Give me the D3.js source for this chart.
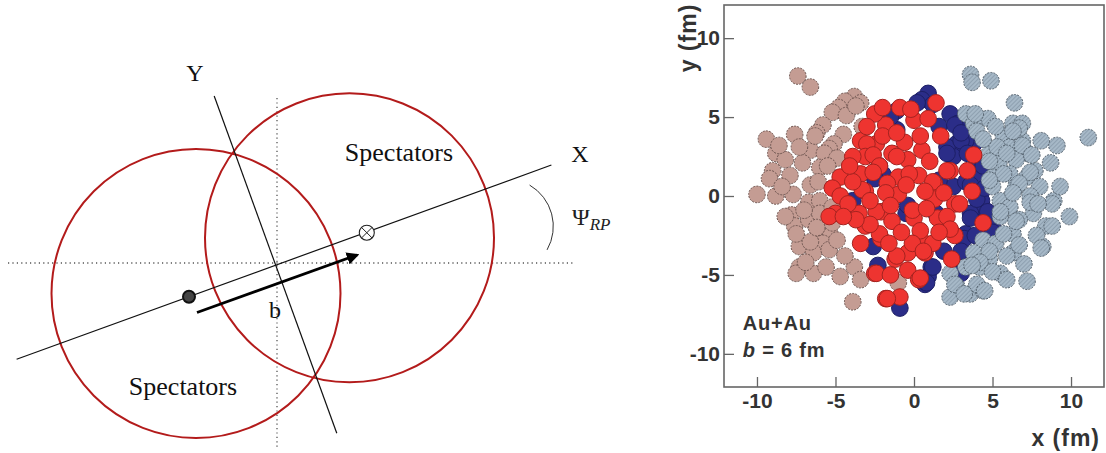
<!DOCTYPE html>
<html><head><meta charset="utf-8">
<script src="https://cdn.jsdelivr.net/npm/d3@7"></script>
<style>body{margin:0;background:#fff}</style></head>
<body><svg id="c" width="1106" height="453"></svg>
<script>
// ---------- Left diagram (units: 1 = 100 px, origin at lab-frame crossing) ----------
const nucleusCenters = [[-0.81, -0.305], [0.725, 0.252]];
const nucleusRadius = 1.445;
const axisX = [[-2.604, -0.963], [2.744, 0.98]];
const axisY = [[-0.628, 1.67], [0.598, -1.703]];
const labHorizontal = [[-2.69, 0], [2.98, 0]];
const labVertical = [[0, 1.65], [0, -1.87]];
const impactVector = [[-0.80, -0.495], [0.80, 0.08]];
const targetDot = [-0.88, -0.337];
const projectileCross = [0.898, 0.303];
const psiArc = {c: [2.286, 0.367], r: 0.477, a0: -59.8, a1: 29.6};
const diagramLabels = [
  {text: "Spectators", p: [1.22, 1.02], size: 26},
  {text: "Spectators", p: [-0.94, -1.32], size: 26},
  {text: "Y", p: [-0.82, 1.82], size: 24},
  {text: "X", p: [3.03, 1.01], size: 24},
  {text: "b", p: [-0.02, -0.55], size: 24}
];

// ---------- Right scatter (fm) ----------
const xTicks = [-10, -5, 0, 5, 10];
const yTicks = [-10, -5, 0, 5, 10];
const nucleonRadius = 0.53;
const blueParticipants = [[0.9,6.5],[0.5,6.1],[-1.1,5.4],[-2.0,5.5],[2.3,5.2],[2.8,4.6],[3.8,3.3],[3.3,3.5],[2.7,3.3],[2.5,2.5],[4.3,1.4],[4.0,2.3],[2.5,0.6],[4.3,-0.3],[4.1,-1.0],[4.9,-2.4],[3.3,-2.4],[3.6,-1.1],[5.0,-1.9],[2.7,-4.9],[1.1,-4.5],[0.9,-5.1],[0.7,-5.6],[-0.9,-7.1],[-2.3,-4.4],[-2.6,-3.2],[-2.0,1.4],[-2.2,1.9],[-0.5,-1.1],[1.4,-1.1],[1.6,4.4],[2.1,3.1],[3.3,0.9],[-3.9,-0.3],[-4.3,-0.9],[-1.1,4.2],[2.6,4.5],[3.0,3.5],[2.1,2.7],[3.4,2.7],[-2.5,1.1],[3.6,0.7],[1.6,1.0],[-1.7,0.2],[-0.4,-0.6],[3.6,-1.4],[3.2,-2.7],[1.2,-4.5],[0.8,-5.5],[3.0,-4.9],[1.9,-3.5],[4.0,-0.2],[4.7,-1.0],[5.0,-2.3],[3.9,-2.5],[4.5,0.5],[4.4,1.9],[3.0,4.0],[1.2,5.8],[0.2,5.9],[-1.5,5.0],[2.0,-1.5],[3.0,-3.5]];
const greySpectators = [[3.6,7.7],[3.7,7.2],[4.9,7.3],[6.4,5.9],[3.3,5.2],[4.7,4.9],[3.8,4.6],[6.3,4.6],[6.9,4.6],[5.7,3.8],[11.1,3.7],[9.1,3.2],[4.8,2.7],[6.1,3.1],[6.9,3.5],[7.2,2.7],[5.4,2.1],[6.5,2.3],[8.7,2.1],[5.0,1.2],[7.2,1.2],[6.1,1.4],[7.7,1.6],[5.0,0.6],[8.0,0.6],[6.5,0.6],[8.9,-0.3],[5.5,-0.3],[7.4,0.0],[6.1,-0.7],[7.6,-1.1],[9.9,-1.3],[5.5,-1.3],[6.7,-1.5],[8.4,-1.9],[6.3,-2.4],[8.2,-3.2],[4.4,-2.8],[5.2,-3.0],[3.8,-3.6],[4.8,-4.0],[6.3,-3.6],[3.3,-4.5],[4.2,-4.5],[5.5,-4.9],[2.3,-4.9],[2.7,-5.7],[3.6,-6.2],[4.4,-6.0],[2.3,-6.4],[7.2,-5.4],[3.9,5.2],[6.7,4.3],[6.3,4.1],[5.3,3.1],[6.9,3.2],[7.5,2.6],[5.9,2.7],[4.8,2.2],[7.4,1.5],[5.7,1.4],[4.8,1.0],[6.7,0.8],[6.3,0.2],[7.4,-0.4],[8.8,-0.5],[8.8,-1.9],[7.8,-2.5],[8.1,-3.3],[6.7,-3.1],[5.7,-2.4],[6.5,-1.6],[5.5,-1.0],[4.8,-3.5],[5.9,-3.8],[4.2,-4.2],[5.0,-4.8],[4.0,-5.6],[4.5,-6.0],[2.6,-5.6],[3.2,-6.2],[3.7,-4.4],[4.0,4.1],[5.9,-5.3],[4.4,3.6],[7.9,-0.5],[5.2,4.4],[7.0,-4.3],[9.3,0.6],[8.1,3.5]];
const pinkSpectators = [[-7.4,7.6],[-6.6,6.9],[-3.8,6.3],[-3.4,5.9],[-4.4,6.0],[-4.8,5.6],[-5.2,5.3],[-4.3,5.1],[-5.8,4.5],[-6.2,4.0],[-7.6,3.9],[-9.4,3.6],[-4.5,3.9],[-3.3,4.4],[-5.1,3.3],[-5.4,3.0],[-6.6,2.9],[-5.7,2.7],[-4.9,2.4],[-8.8,2.7],[-8.2,2.3],[-7.1,2.1],[-6.0,1.8],[-5.5,1.9],[-9.0,1.6],[-7.9,1.3],[-9.2,1.1],[-6.6,0.7],[-10.0,0.1],[-8.8,0.0],[-7.7,0.1],[-6.1,0.9],[-6.7,-0.4],[-6.0,-0.3],[-7.3,3.1],[-8.6,3.2],[-7.8,-1.2],[-7.6,-1.9],[-6.7,-1.5],[-6.0,-1.1],[-5.2,-0.7],[-6.1,-2.3],[-5.3,-2.5],[-5.8,-3.0],[-7.3,-3.2],[-6.4,-3.6],[-5.4,-3.4],[-4.9,-2.8],[-7.3,-4.5],[-7.5,-4.9],[-6.4,-4.9],[-5.6,-4.5],[-4.7,-5.1],[-3.8,-4.5],[-3.4,-5.3],[-3.9,-6.7],[-8.2,-1.3],[-6.6,-2.9],[-3.7,5.7],[-6.3,3.8],[-7.5,-2.4],[-5.2,-1.7],[-6.2,-2.0],[-8.4,0.6],[-7.0,-0.9],[-4.4,-3.8],[-6.9,-4.2],[-1.0,-5.5]];
const redParticipants = [[-0.9,5.6],[1.4,5.9],[0.0,4.8],[0.9,4.9],[-1.8,4.5],[-2.5,5.2],[1.7,3.8],[-0.6,3.4],[-2.4,3.3],[-3.4,3.5],[-3.0,3.3],[0.5,2.9],[-1.4,2.7],[-0.4,2.3],[1.0,2.2],[-3.1,2.5],[-3.9,2.5],[-2.6,2.6],[-1.1,2.5],[-2.2,1.9],[2.3,1.6],[3.4,1.6],[3.8,2.6],[-1.0,1.2],[0.3,1.3],[-3.4,1.4],[1.3,0.8],[-1.7,0.8],[-4.7,1.2],[-0.3,1.4],[1.2,0.9],[-3.1,0.3],[-2.1,-1.0],[-1.0,0.1],[1.3,-0.2],[2.6,-0.5],[1.5,-1.4],[0.0,-1.4],[-1.4,-1.6],[-3.1,-1.9],[-3.4,-3.0],[-2.1,-2.7],[0.4,-2.7],[2.6,-2.5],[-0.4,-3.6],[0.7,-3.6],[2.4,-4.0],[-1.2,-4.0],[-2.5,-4.9],[-0.4,-4.7],[0.3,-5.3],[-1.8,-6.5],[-0.9,-6.4],[-5.2,0.5],[-3.3,0.4],[-4.7,0.0],[-1.8,0.2],[3.7,0.3],[2.9,-0.5],[-5.0,-1.1],[-5.4,-1.3],[-2.4,-1.0],[-3.5,-1.1],[-0.1,-0.9],[2.1,-1.3],[4.4,-1.7],[-2.2,-2.4],[0.4,-2.2],[-0.1,-3.0],[1.2,-3.0],[-1.1,-3.8],[0.6,-3.5],[-2.4,-4.9],[0.4,-5.2],[-1.7,-6.5],[-4.2,-0.5],[-3.9,0.9],[-2.6,1.5],[-2.8,-0.3],[-1.5,-0.6],[-0.5,0.7],[0.7,0.3],[0.8,-0.8],[1.9,0.2],[2.3,-2.1],[1.6,-2.3],[-1.6,-3.0],[-2.8,-1.8],[-0.8,-2.3],[-1.5,-5.0],[-2.0,3.8],[-1.1,4.0],[0.4,3.8],[-0.2,5.5],[-2.0,5.6],[-3.0,4.4],[2.1,1.6],[-4.1,1.9],[-3.7,-1.5],[-4.5,-1.3]];

const svg = d3.select("#c");

// ===== Diagram =====
const dx = d3.scaleLinear().domain([0, 1]).range([277, 377]);
const dy = d3.scaleLinear().domain([0, 1]).range([263, 163]);
const dr = v => dx(v) - dx(0);
const D = svg.append("g");
const line = d3.line().x(d => dx(d[0])).y(d => dy(d[1]));

D.selectAll("path.lab").data([labHorizontal, labVertical]).join("path")
  .attr("d", line).attr("fill", "none").attr("stroke", "#555")
  .attr("stroke-width", 1.3).attr("stroke-dasharray", "1.2,3.2");

D.selectAll("circle.nuc").data(nucleusCenters).join("circle")
  .attr("cx", d => dx(d[0])).attr("cy", d => dy(d[1])).attr("r", dr(nucleusRadius))
  .attr("fill", "none").attr("stroke", "#b31b1b").attr("stroke-width", 2);

D.selectAll("path.ax").data([axisX, axisY]).join("path")
  .attr("d", line).attr("fill", "none").attr("stroke", "#111").attr("stroke-width", 1.2);

svg.append("defs").html(`
 <marker id="ah" viewBox="0 0 10 10" refX="8" refY="5" markerWidth="4.5" markerHeight="4.5" orient="auto">
   <path d="M0,0 L10,5 L0,10 z" fill="#000"/></marker>
 <pattern id="hatch" patternUnits="userSpaceOnUse" width="3" height="3" patternTransform="rotate(45)">
   <rect width="3" height="3" fill="#a6b8c7"/><line x1="0" y1="0" x2="0" y2="3" stroke="#7a8d9e" stroke-width="1.1"/></pattern>`);
D.append("path").datum(impactVector).attr("d", line).attr("stroke", "#000")
  .attr("stroke-width", 2.8).attr("marker-end", "url(#ah)");

D.append("circle").attr("cx", dx(targetDot[0])).attr("cy", dy(targetDot[1])).attr("r", 6)
  .attr("fill", "#444").attr("stroke", "#111").attr("stroke-width", 2);
const ox = dx(projectileCross[0]), oy = dy(projectileCross[1]);
D.append("circle").attr("cx", ox).attr("cy", oy).attr("r", 7.5).attr("fill", "#fff")
  .attr("stroke", "#222").attr("stroke-width", 1.1);
D.append("path").attr("d", `M${ox-5.2},${oy-5.2}L${ox+5.2},${oy+5.2}M${ox+5.2},${oy-5.2}L${ox-5.2},${oy+5.2}`)
  .attr("stroke", "#222").attr("stroke-width", 1);

const pa = d3.path();
pa.arc(dx(psiArc.c[0]), dy(psiArc.c[1]), dr(psiArc.r), psiArc.a0 * Math.PI / 180, psiArc.a1 * Math.PI / 180);
D.append("path").attr("d", pa.toString()).attr("fill", "none").attr("stroke", "#333").attr("stroke-width", 1);

D.selectAll("text.lbl").data(diagramLabels).join("text")
  .attr("x", d => dx(d.p[0])).attr("y", d => dy(d.p[1])).attr("text-anchor", "middle")
  .attr("font-family", "'Liberation Serif', 'DejaVu Serif', serif").attr("font-size", d => d.size)
  .attr("fill", "#111").text(d => d.text);

const psiT = D.append("text").attr("x", dx(2.95)).attr("y", dy(0.38))
  .attr("font-family", "'Liberation Serif', serif").attr("font-size", 24).attr("fill", "#222");
psiT.append("tspan").text("Ψ");
psiT.append("tspan").attr("font-style", "italic").attr("font-size", 17).attr("dy", 5).text("RP");

// ===== Scatter =====
const xs = d3.scaleLinear().domain([-12.1, 12.1]).range([724, 1104]);
const ys = d3.scaleLinear().domain([-12.1, 12.1]).range([387, 5]);
const R = xs(nucleonRadius) - xs(0);
const S = svg.append("g");

S.append("rect").attr("x", xs.range()[0]).attr("y", ys.range()[1])
  .attr("width", xs.range()[1] - xs.range()[0]).attr("height", ys.range()[0] - ys.range()[1])
  .attr("fill", "#fff").attr("stroke", "#666").attr("stroke-width", 1.6);

function nucleons(data, fill, stroke, dash) {
  S.append("g").selectAll("circle").data(data).join("circle")
    .attr("cx", d => xs(d[0])).attr("cy", d => ys(d[1])).attr("r", R)
    .attr("fill", fill).attr("stroke", stroke).attr("stroke-width", 1)
    .attr("stroke-dasharray", dash);
}
nucleons(blueParticipants, "#2b2d88", "#1d1f66", null);
nucleons(greySpectators, "url(#hatch)", "#55626e", "2,1.2");
nucleons(pinkSpectators, "#c49c93", "#6e5550", "2,1.2");
nucleons(redParticipants, "#ee3430", "#a52320", null);

const font = "'Liberation Sans', Arial, sans-serif";
const gx = S.append("g").attr("transform", `translate(0,${ys.range()[0]})`);
gx.call(d3.axisBottom(xs).tickValues(d3.range(-12, 13, 1)).tickSize(-5).tickFormat(""));
gx.call(d3.axisBottom(xs).tickValues(xTicks).tickSize(-10).tickPadding(6).tickFormat(d3.format("d")));
const gy = S.append("g").attr("transform", `translate(${xs.range()[0]},0)`);
gy.call(d3.axisLeft(ys).tickValues(d3.range(-12, 13, 1)).tickSize(-5).tickFormat(""));
gy.call(d3.axisLeft(ys).tickValues(yTicks).tickSize(-10).tickPadding(4).tickFormat(d3.format("d")));
[gx, gy].forEach(g => {
  g.selectAll(".domain").remove();
  g.selectAll("line").attr("stroke", "#666").attr("stroke-width", 1.3);
  g.selectAll("text").attr("font-family", font).attr("font-weight", "bold")
    .attr("font-size", 21).attr("fill", "#333");
});
gx.selectAll("text").text(d => d3.format("d")(d).replace("−", "-"));
gy.selectAll("text").text(d => d3.format("d")(d).replace("−", "-"));

S.append("text").attr("x", 1100).attr("y", 446).attr("text-anchor", "end")
  .attr("font-family", font).attr("font-weight", "bold").attr("font-size", 23)
  .attr("letter-spacing", 1).attr("fill", "#333").text("x (fm)");
S.append("text").attr("transform", "translate(696,38) rotate(-90)").attr("text-anchor", "middle")
  .attr("font-family", font).attr("font-weight", "bold").attr("font-size", 23)
  .attr("letter-spacing", 1).attr("fill", "#333").text("y (fm)");
S.append("text").attr("x", xs(-10.9)).attr("y", ys(-8.5)).attr("font-family", font)
  .attr("font-weight", "bold").attr("font-size", 20).attr("letter-spacing", 0.8).attr("fill", "#333").text("Au+Au");
const bt = S.append("text").attr("x", xs(-10.9)).attr("y", ys(-10.2)).attr("font-family", font)
  .attr("font-weight", "bold").attr("font-size", 20).attr("letter-spacing", 0.8).attr("fill", "#333");
bt.append("tspan").attr("font-style", "italic").text("b");
bt.append("tspan").text(" = 6 fm");
</script></body></html>
